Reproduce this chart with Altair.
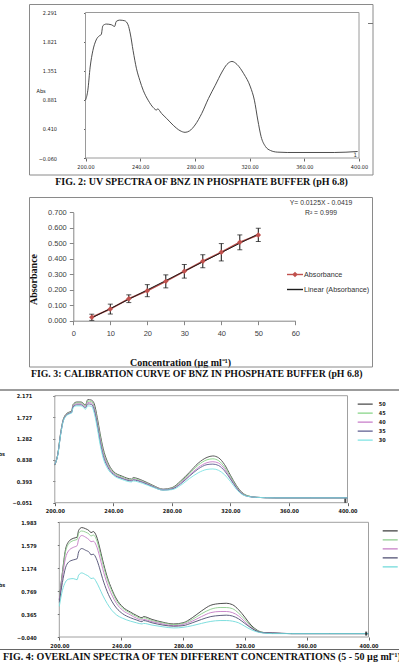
import altair as alt
import pandas as pd

# ---------------- FIG. 2 : UV spectrum of BNZ ----------------
WL_FIG2 = [200, 201.7, 203.4, 205.4, 207.8, 210.3, 211.5, 212.7, 215.2, 218.9, 221.3, 222.5, 225.0, 228.7,
           231.1, 232.8, 234.8, 237.3, 239.7, 242.2, 245.8, 249.5, 252.0, 252.7, 255.6, 259.3, 264.2, 269.1,
           272.8, 276.0, 280.1, 285.0, 289.9, 294.9, 299.8, 303.4, 307.1, 310.8, 315.7, 320.6, 323.5, 326.0,
           328.4, 331.6, 335.3, 340.2, 347.5, 381.9, 399.0]
ABS_FIG2 = [0.874, 1.034, 1.409, 1.676, 1.847, 1.917, 1.933, 2.077, 2.104, 2.093, 2.066, 2.147, 2.168, 2.157,
            2.093, 1.943, 1.676, 1.382, 1.195, 1.034, 0.874, 0.756, 0.714, 0.735, 0.660, 0.580, 0.468, 0.382,
            0.355, 0.377, 0.473, 0.660, 0.901, 1.115, 1.329, 1.452, 1.500, 1.452, 1.302, 1.088, 0.874, 0.553,
            0.286, 0.126, 0.061, 0.035, 0.029, 0.029, 0.045]
X_TICKS_NM = [200, 240, 280, 320, 360, 400]
Y_TICKS_FIG2 = [-0.060, 0.410, 0.881, 1.351, 1.821, 2.291]

# ---------------- FIG. 3 : calibration curve ----------------
CONC = [5, 10, 15, 20, 25, 30, 35, 40, 45, 50]
ABSORB = [0.022, 0.075, 0.142, 0.194, 0.254, 0.319, 0.384, 0.442, 0.506, 0.554]
SD = [0.020, 0.032, 0.025, 0.039, 0.042, 0.044, 0.042, 0.056, 0.048, 0.043]
X_TICKS_FIG3 = [0, 10, 20, 30, 40, 50, 60]
Y_TICKS_FIG3 = [0.0, 0.1, 0.2, 0.3, 0.4, 0.5, 0.6, 0.7]
LEG_FIG3 = ["Absorbance", "Linear (Absorbance)"]
EQ_TEXT = ["Y= 0.0125X - 0.0419", "R\u00b2 = 0.999"]

# ---------------- FIG. 4 (top) : 30 - 50 ug/ml ----------------
WL_TOP = [200, 202, 204, 206, 209, 211.5, 212.5, 215, 218, 221, 222.5, 225, 227, 229, 231, 233, 236, 240, 246,
          252.5, 253.5, 260, 267, 274, 280, 286, 292, 298, 304, 308, 312, 316, 320, 324, 328, 332, 338, 350, 375, 400]
TOP_50 = [0.73, 0.95, 1.40, 1.70, 1.82, 1.85, 1.99, 2.04, 2.04, 1.98, 2.09, 2.08, 2.00, 1.72, 1.38, 1.08, 0.80, 0.60,
          0.50, 0.44, 0.47, 0.41, 0.31, 0.23, 0.26, 0.40, 0.58, 0.77, 0.89, 0.92, 0.88, 0.74, 0.52, 0.31, 0.16, 0.09,
          0.06, 0.05, 0.05, 0.05]
TOP_45 = [0.73, 0.95, 1.39, 1.69, 1.81, 1.84, 1.97, 2.02, 2.02, 1.96, 2.06, 2.05, 1.94, 1.66, 1.33, 1.03, 0.76, 0.58,
          0.48, 0.42, 0.45, 0.39, 0.30, 0.22, 0.25, 0.38, 0.55, 0.73, 0.84, 0.86, 0.82, 0.69, 0.49, 0.29, 0.15, 0.09,
          0.06, 0.05, 0.05, 0.05]
TOP_40 = [0.74, 0.94, 1.38, 1.68, 1.80, 1.83, 1.96, 2.00, 2.00, 1.94, 2.03, 2.02, 1.90, 1.61, 1.27, 0.98, 0.73, 0.56,
          0.46, 0.41, 0.43, 0.38, 0.29, 0.22, 0.24, 0.36, 0.52, 0.68, 0.78, 0.80, 0.77, 0.65, 0.46, 0.27, 0.14, 0.08,
          0.06, 0.05, 0.05, 0.05]
TOP_35 = [0.74, 0.94, 1.37, 1.67, 1.79, 1.82, 1.94, 1.98, 1.98, 1.92, 2.00, 1.99, 1.86, 1.56, 1.21, 0.93, 0.70, 0.54,
          0.45, 0.40, 0.42, 0.37, 0.28, 0.21, 0.23, 0.34, 0.50, 0.65, 0.74, 0.75, 0.72, 0.61, 0.44, 0.26, 0.13, 0.08,
          0.06, 0.05, 0.05, 0.05]
TOP_30 = [0.75, 0.93, 1.36, 1.66, 1.78, 1.81, 1.92, 1.96, 1.96, 1.89, 1.96, 1.95, 1.80, 1.50, 1.15, 0.88, 0.66, 0.52,
          0.43, 0.38, 0.40, 0.35, 0.27, 0.21, 0.22, 0.31, 0.45, 0.57, 0.64, 0.65, 0.62, 0.53, 0.39, 0.23, 0.12, 0.08,
          0.06, 0.05, 0.05, 0.05]
TOP_LABELS = ["50", "45", "40", "35", "30"]
Y_TICKS_TOP = [-0.051, 0.393, 0.838, 1.282, 1.727, 2.171]

# ---------------- FIG. 4 (bottom) : 5 - 25 ug/ml ----------------
WL_BOT = [200, 202, 204, 206, 209, 211.5, 212.5, 214.5, 217, 219.5, 220.5, 222, 224, 226, 228, 231, 234, 237, 241,
          246, 250, 253.5, 254.5, 260, 267, 274, 280, 286, 292, 298, 304, 308, 312, 316, 320, 324, 328, 332, 338,
          350, 375, 400]
BOT_25 = [0.62, 1.10, 1.50, 1.64, 1.70, 1.72, 1.84, 1.89, 1.87, 1.83, 1.80, 1.82, 1.74, 1.55, 1.32, 1.02, 0.80, 0.63,
          0.49, 0.40, 0.34, 0.30, 0.32, 0.27, 0.22, 0.19, 0.21, 0.30, 0.42, 0.52, 0.55, 0.555, 0.53, 0.44, 0.31, 0.17,
          0.08, 0.04, 0.03, 0.02, 0.02, 0.02]
BOT_20 = [0.61, 1.08, 1.46, 1.60, 1.66, 1.68, 1.79, 1.83, 1.81, 1.77, 1.74, 1.76, 1.68, 1.49, 1.27, 0.98, 0.77, 0.60,
          0.47, 0.38, 0.32, 0.28, 0.30, 0.25, 0.21, 0.18, 0.20, 0.27, 0.37, 0.45, 0.48, 0.48, 0.46, 0.38, 0.27, 0.15,
          0.07, 0.04, 0.03, 0.02, 0.02, 0.02]
BOT_15 = [0.60, 1.02, 1.35, 1.48, 1.54, 1.57, 1.68, 1.75, 1.72, 1.67, 1.64, 1.65, 1.57, 1.39, 1.17, 0.90, 0.70, 0.55,
          0.43, 0.35, 0.29, 0.26, 0.27, 0.23, 0.19, 0.16, 0.18, 0.24, 0.32, 0.39, 0.41, 0.41, 0.39, 0.33, 0.23, 0.13,
          0.06, 0.035, 0.03, 0.02, 0.02, 0.02]
BOT_10 = [0.57, 0.92, 1.18, 1.28, 1.32, 1.34, 1.46, 1.52, 1.49, 1.45, 1.41, 1.42, 1.34, 1.18, 0.99, 0.76, 0.59, 0.47,
          0.37, 0.30, 0.26, 0.23, 0.25, 0.21, 0.17, 0.15, 0.16, 0.21, 0.27, 0.32, 0.34, 0.345, 0.33, 0.28, 0.20, 0.12,
          0.06, 0.035, 0.03, 0.02, 0.02, 0.02]
BOT_5 = [0.50, 0.78, 0.93, 0.98, 0.99, 0.97, 1.05, 1.09, 1.06, 1.02, 0.99, 1.00, 0.93, 0.82, 0.70, 0.55, 0.43, 0.35,
         0.29, 0.24, 0.21, 0.19, 0.20, 0.17, 0.14, 0.12, 0.13, 0.16, 0.20, 0.235, 0.25, 0.25, 0.24, 0.21, 0.15, 0.09,
         0.05, 0.03, 0.02, 0.02, 0.02, 0.02]
BOT_LABELS = ["25", "20", "15", "10", "5"]
Y_TICKS_BOT = [-0.040, 0.365, 0.769, 1.174, 1.579, 1.983]

CAPTIONS = ["FIG. 2: UV SPECTRA OF BNZ IN PHOSPHATE BUFFER (pH 6.8)",
            "FIG. 3: CALIBRATION CURVE OF BNZ IN PHOSPHATE BUFFER (pH 6.8)",
            "FIG. 4: OVERLAIN SPECTRA OF TEN DIFFERENT CONCENTRATIONS (5 - 50 \u00b5g ml\u207b\u00b9)"]

# ---------------- styling ----------------
W, H = 399, 671
PIX = "Liberation Sans Narrow, DejaVu Sans Condensed, Arial Narrow, sans-serif"
SERIF = "Liberation Serif, Times New Roman, serif"
SANS = "Liberation Sans, Arial, sans-serif"
TOP_COLORS = ["#4a4a4a", "#86d486", "#c77dc9", "#5c5c8f", "#7ee3e3"]
BOT_COLORS = ["#3c3c3c", "#8ccc8c", "#c47cc4", "#4d4d70", "#6fdada"]
one = pd.DataFrame({"k": [0]})


def spectrum_axes(x_rng, y_rng, y_dom, y_ticks, title_x, title_y, title_align, lab_pad, fsize, weight):
    sx = alt.Scale(domain=[200, 400], range=x_rng, nice=False, zero=False)
    sy = alt.Scale(domain=y_dom, range=y_rng, nice=False, zero=False)
    ax = alt.Axis(orient="bottom", offset=y_rng[0] - H, values=X_TICKS_NM, format=".2f", title=None,
                  grid=False, domain=False, tickSize=3, tickColor="#666", labelFont=PIX, labelFontSize=fsize,
                  labelFontWeight=weight, labelColor="#222", labelPadding=3, labelFlush=False, labelOverlap=False)
    ay = alt.Axis(orient="left", offset=-x_rng[0], values=y_ticks, format=".3f", title="Abs", titleAngle=0,
                  titleAlign=title_align, titleBaseline="middle", titleX=title_x, titleY=title_y, titleFont=PIX,
                  titleFontSize=fsize, titleFontWeight=weight, titleColor="#222", grid=False, domain=False,
                  tickSize=2, tickColor="#666", labelFont=PIX, labelFontSize=fsize, labelFontWeight=weight,
                  labelColor="#222", labelPadding=lab_pad, labelOverlap=False)
    return sx, sy, ax, ay


# ---------------- panel 1 ----------------
sx1, sy1, ax1, ay1 = spectrum_axes([85.5, 359], [158, 12.5], [-0.060, 2.291], Y_TICKS_FIG2, -49.5, 90, "left", 27,
                                   5.5, "normal")
df1 = pd.DataFrame({"wl": WL_FIG2, "abs": ABS_FIG2})
box1 = alt.Chart(one).mark_rect(fill="transparent", stroke="#9a9a9a", strokeWidth=1).encode(
    x=alt.X(datum=200, scale=sx1, axis=ax1), x2=alt.datum(400), y=alt.Y(datum=-0.060, scale=sy1, axis=ay1),
    y2=alt.datum(2.291))
line1 = alt.Chart(df1).mark_line(color="#3a3a3a", strokeWidth=0.9, interpolate="monotone").encode(
    x=alt.X("wl:Q", scale=sx1, axis=ax1), y=alt.Y("abs:Q", scale=sy1, axis=ay1))
mark1 = alt.Chart(one).mark_text(text="1", font=PIX, fontSize=6, align="right", baseline="middle", dx=-2,
                                 color="#333").encode(x=alt.X(datum=400, scale=sx1, axis=ax1),
                                                      y=alt.Y(datum=-0.01, scale=sy1, axis=ay1))
panel1 = alt.layer(box1, line1, mark1)

# ---------------- panel 2 ----------------
df2 = pd.DataFrame({"conc": CONC, "absorb": ABSORB, "sd": SD})
sx2 = alt.Scale(domain=[0, 60], range=[73.3, 295.3], nice=False, zero=False)
sy2 = alt.Scale(domain=[0, 0.7], range=[320.7, 212.3], nice=False, zero=False)
ax2 = alt.Axis(orient="bottom", offset=320.7 - H, values=X_TICKS_FIG3, format="d", grid=False,
               domainColor="#868686", tickColor="#868686", tickSize=4, labelFont=SANS, labelFontSize=7.5,
               labelColor="#404040", labelPadding=5, labelFlush=False,
               title="Concentration (\u00b5g ml\u207b\u00b9)", titleFont=SERIF, titleFontSize=10,
               titleFontWeight="bold", titleColor="#111", titleX=180, titleY=41.5, titleBaseline="middle",
               titleAlign="center")
ay2 = alt.Axis(orient="left", offset=-73.3, values=Y_TICKS_FIG3, format=".3f", grid=False,
               domainColor="#868686", tickColor="#868686", tickSize=4, labelFont=SANS, labelFontSize=7.5,
               labelColor="#404040", labelPadding=3, title="Absorbance", titleFont=SERIF, titleFontSize=10,
               titleFontWeight="bold", titleColor="#111", titleAngle=270, titleX=-34.8, titleY=279,
               titleBaseline="bottom", titleAlign="center")
base2 = alt.Chart(df2).transform_calculate(lo="datum.absorb - datum.sd", hi="datum.absorb + datum.sd")
X2 = alt.X("conc:Q", scale=sx2, axis=ax2)
data_line = base2.mark_line(color="#b84a47", strokeWidth=1.6).encode(x=X2, y=alt.Y("absorb:Q", scale=sy2, axis=ay2))
trend = base2.transform_regression("conc", "absorb").mark_line(color="#1e1e1e", strokeWidth=1).encode(
    x=X2, y=alt.Y("absorb:Q", scale=sy2, axis=ay2))
bars = base2.mark_rule(color="#111", strokeWidth=1).encode(
    x=X2, y=alt.Y("lo:Q", scale=sy2, axis=ay2), y2="hi:Q")
cap_lo = base2.mark_tick(orient="horizontal", size=5, thickness=1, color="#111").encode(
    x=X2, y=alt.Y("lo:Q", scale=sy2, axis=ay2))
cap_hi = base2.mark_tick(orient="horizontal", size=5, thickness=1, color="#111").encode(
    x=X2, y=alt.Y("hi:Q", scale=sy2, axis=ay2))
pts = base2.mark_point(shape="diamond", filled=True, size=30, color="#c0504d", opacity=1).encode(
    x=X2, y=alt.Y("absorb:Q", scale=sy2, axis=ay2))
panel2 = alt.layer(data_line, trend, bars, cap_lo, cap_hi, pts)

# manual Excel-style legend for panel 2
leg_df = pd.DataFrame({"label": LEG_FIG3})
ly = alt.Y("label:N", scale=alt.Scale(type="point", domain=LEG_FIG3, range=[274.5, 289.5], padding=0), axis=None)
lc = alt.Color("label:N", scale=alt.Scale(domain=LEG_FIG3, range=["#c0504d", "#1e1e1e"]), legend=None)
leg_rule = alt.Chart(leg_df).mark_rule(strokeWidth=1.4).encode(x=alt.value(287), x2=alt.value(303), y=ly, color=lc)
leg_pt = alt.Chart(leg_df).transform_filter(alt.datum.label == LEG_FIG3[0]).mark_point(
    shape="diamond", filled=True, size=30, opacity=1).encode(x=alt.value(295), y=ly, color=lc)
leg_txt = alt.Chart(leg_df).mark_text(align="left", baseline="middle", font=SANS, fontSize=7.2,
                                      color="#333").encode(x=alt.value(304), y=ly, text="label:N")
legend2 = alt.layer(leg_rule, leg_pt, leg_txt)

eq_df = pd.DataFrame({"t": EQ_TEXT})
eq_y = alt.Y("t:N", scale=alt.Scale(type="point", domain=EQ_TEXT, range=[203, 213], padding=0), axis=None)
eq_txt = alt.Chart(eq_df).mark_text(align="center", baseline="middle", font=SANS, fontSize=6.8,
                                    color="#333").encode(x=alt.value(321), y=eq_y, text="t:N")


# ---------------- spectra panels (FIG. 4) ----------------
def overlay_panel(wls, series, labels, colors, x_rng, y_rng, y_dom, y_ticks, title_x, title_y, leg_x, leg_y,
                  row_h, end_y):
    rows = []
    for lab, vals in zip(labels, series):
        for w, a in zip(wls, vals):
            rows.append({"wl": w, "abs": a, "conc": lab})
    df = pd.DataFrame(rows)
    sx, sy, ax, ay = spectrum_axes(x_rng, y_rng, y_dom, y_ticks, title_x, title_y, "right", 21, 5.5, "bold")
    box = alt.Chart(one).mark_rect(fill="transparent", stroke="#a0a0a0", strokeWidth=1).encode(
        x=alt.X(datum=200, scale=sx, axis=ax), x2=alt.datum(400), y=alt.Y(datum=y_dom[0], scale=sy, axis=ay),
        y2=alt.datum(y_dom[1]))
    lines = alt.Chart(df).mark_line(strokeWidth=0.9, interpolate="monotone").encode(
        x=alt.X("wl:Q", scale=sx, axis=ax), y=alt.Y("abs:Q", scale=sy, axis=ay),
        color=alt.Color("conc:N", scale=alt.Scale(domain=labels, range=colors),
                        legend=alt.Legend(orient="none", legendX=leg_x, legendY=leg_y, title=None,
                                          symbolType="stroke", symbolSize=225, symbolStrokeWidth=1.2,
                                          clipHeight=row_h, rowPadding=0, padding=0, labelOffset=5,
                                          labelFont=PIX, labelFontSize=5.5, labelFontWeight="bold",
                                          labelColor="#222")),
        detail="conc:N")
    end = alt.Chart(one).mark_tick(orient="vertical", size=4, thickness=2, color="#000").encode(
        x=alt.X(datum=398.5, scale=sx, axis=ax), y=alt.Y(datum=end_y, scale=sy, axis=ay))
    return alt.layer(box, lines, end)


panel3 = overlay_panel(WL_TOP, [TOP_50, TOP_45, TOP_40, TOP_35, TOP_30], TOP_LABELS, TOP_COLORS,
                       [54.8, 347.5], [502.7, 395.7], [-0.051, 2.171], Y_TICKS_TOP, -50.3, 453, 356.7, 400, 8.2,
                       -0.01)
panel4 = overlay_panel(WL_BOT, [BOT_25, BOT_20, BOT_15, BOT_10, BOT_5], BOT_LABELS, BOT_COLORS,
                       [59.3, 368.5], [637, 522.3], [-0.040, 1.983], Y_TICKS_BOT, -54.6, 584, 381.7, 526.7, 8.5,
                       0.02)

# ---------------- frames, separators, captions ----------------
frame1 = alt.Chart(one).mark_rect(fill="transparent", stroke="#8a8a8a", strokeWidth=1).encode(
    x=alt.value(29.5), x2=alt.value(373), y=alt.value(4.5), y2=alt.value(175))
frame2 = alt.Chart(one).mark_rect(fill="transparent", stroke="#8a8a8a", strokeWidth=1).encode(
    x=alt.value(29.5), x2=alt.value(372.5), y=alt.value(197.5), y2=alt.value(367))
dash1 = alt.Chart(one).mark_rule(color="#777", strokeWidth=1).encode(
    x=alt.value(368), x2=alt.value(373), y=alt.value(23.5))
sep1 = alt.Chart(one).mark_rule(color="#9c9c9c", strokeWidth=2).encode(
    x=alt.value(0), x2=alt.value(399), y=alt.value(390))
sep2 = alt.Chart(one).mark_rule(color="#666", strokeWidth=1).encode(
    x=alt.value(0), x2=alt.value(399), y=alt.value(649.5))
cap_kw = dict(font=SERIF, fontWeight="bold", color="#111", baseline="middle")
cap1 = alt.Chart(one).mark_text(text=CAPTIONS[0], fontSize=10, align="center", **cap_kw).encode(
    x=alt.value(201.5), y=alt.value(181.5))
cap2 = alt.Chart(one).mark_text(text=CAPTIONS[1], fontSize=9.8, align="center", **cap_kw).encode(
    x=alt.value(196.7), y=alt.value(373.5))
cap3 = alt.Chart(one).mark_text(text=CAPTIONS[2], fontSize=10, align="left", **cap_kw).encode(
    x=alt.value(3), y=alt.value(656.5))

chart = alt.layer(
    frame1, frame2, dash1, sep1, sep2,
    panel1, panel2, legend2, eq_txt, panel3, panel4,
    cap1, cap2, cap3,
).resolve_scale(x="independent", y="independent", color="independent").properties(
    width=W, height=H, padding=0, autosize=alt.AutoSizeParams(type="none"), background="white"
).configure_view(stroke=None)

chart.save("out.html", embed_options={"renderer": "svg", "actions": False})
